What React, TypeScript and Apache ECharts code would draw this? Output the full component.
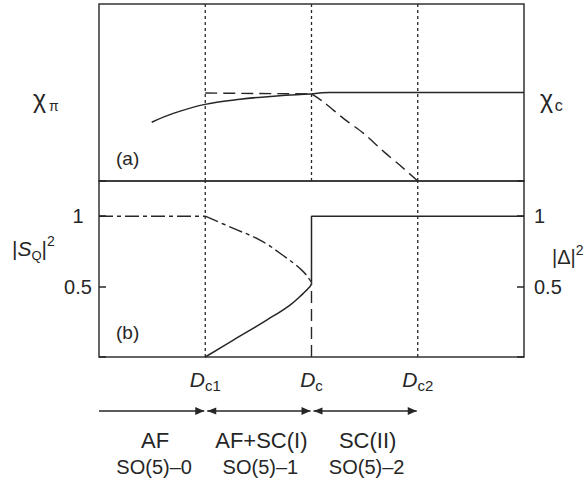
import { useEffect, useRef } from 'react';
import * as echarts from 'echarts';

// x positions of the phase boundaries (Dc1, Dc, Dc2) on a 0..4 axis
const xMin = 0;
const xMax = 4;
const boundaryValues = [1, 2, 3];
const boundarySubs = ['c1', 'c', 'c2'];

// panel (a): susceptibilities
const chiPiCurve = [[0.496, 0.332], [0.699, 0.382], [0.998, 0.433], [1.327, 0.462], [1.672, 0.48], [1.986, 0.491], [2, 0.492]];
const chiCFlat = [[2, 0.492], [2.17, 0.5], [4, 0.5]];
const chiDashedFlat = [[1, 0.497], [2, 0.492]];
const chiDashedFall = [[2, 0.492], [2.11, 0.448], [2.3, 0.354], [2.49, 0.269], [2.68, 0.166], [2.83, 0.09], [3, 0]];

// panel (b): order parameters
const sqPlateau = [[0, 1], [1, 1]];
const sqUpperBranch = [[1, 1], [1.26, 0.915], [1.515, 0.83], [1.73, 0.723], [1.908, 0.617], [1.986, 0.546], [2, 0.52]];
const deltaLowerBranch = [[1, 0], [1.264, 0.12], [1.578, 0.262], [1.798, 0.369], [1.923, 0.452], [1.986, 0.5], [2, 0.52]];
const deltaStep = [[2, 0.52], [2, 1], [4, 1]];
const deltaStepBelow = [[2, 0], [2, 0.52]];
const yTickLabels: Record<string, string> = { '0.5': '0.5', '1': '1' };

// phase annotations
const phaseBounds = [0, 1, 2, 3];
const phaseNames = ['AF', 'AF+SC(I)', 'SC(II)'];
const phaseSymmetry = ['SO(5)–0', 'SO(5)–1', 'SO(5)–2'];

const FONT = '"Liberation Sans", Arial, Helvetica, sans-serif';
const INK = '#262626';

export default function App() {
  const ref = useRef<HTMLDivElement>(null);
  useEffect(() => {
    if (!ref.current) return;
    const chart = echarts.init(ref.current, undefined, { renderer: 'svg' });
    const dotted = { color: INK, width: 1.3, type: [3, 3] as any };
    const lineSeries = (name: string, data: number[][], grid: number, style: any, smooth: any = false) => ({
      name,
      type: 'line',
      xAxisIndex: grid,
      yAxisIndex: grid,
      data,
      smooth,
      symbol: 'none',
      lineStyle: style,
      silent: true,
    });
    const series: any[] = [];
    boundaryValues.forEach((b, i) => {
      series.push(lineSeries('vA' + i, [[b, 0], [b, 1]], 0, dotted));
      if (i !== 1) series.push(lineSeries('vB' + i, [[b, 0], [b, 1.25]], 1, dotted));
    });
    const solid = { color: INK, width: 1.5, type: 'solid' };
    const dashed = { color: INK, width: 1.4, type: [12, 6] };
    const dashDot = { color: INK, width: 1.4, type: [14, 4, 4, 4] };
    series.push(lineSeries('chiPi', chiPiCurve, 0, solid, 0.4));
    series.push(lineSeries('chiC', chiCFlat, 0, solid, 0.3));
    series.push(lineSeries('chiDashFlat', chiDashedFlat, 0, dashed));
    series.push(lineSeries('chiDashFall', chiDashedFall, 0, dashed, 0.3));
    series.push(lineSeries('sqPlateau', sqPlateau, 1, dashDot));
    series.push(lineSeries('sqUpper', sqUpperBranch, 1, dashDot, 0.4));
    series.push(lineSeries('deltaLower', deltaLowerBranch, 1, solid, 0.4));
    series.push(lineSeries('deltaStep', deltaStep, 1, solid));
    series.push(lineSeries('deltaBelow', deltaStepBelow, 1, dashed));

    const labelFmt = (v: number) => yTickLabels[String(v)] || '';
    chart.setOption({
      animation: false,
      textStyle: { fontFamily: FONT },
      grid: [
        { left: 99, right: 60, top: 4, height: 177, show: true, borderColor: '#333', borderWidth: 1.5, containLabel: false },
        { left: 99, right: 60, top: 181, height: 176, show: true, borderColor: '#333', borderWidth: 1.5, containLabel: false },
      ],
      xAxis: [
        { type: 'value', gridIndex: 0, min: xMin, max: xMax, show: false },
        {
          type: 'value', gridIndex: 1, min: xMin, max: xMax, interval: 1,
          axisLine: { show: false }, axisTick: { show: false }, splitLine: { show: false },
          axisLabel: {
            margin: 8,
            color: INK,
            formatter: (v: number) => {
              const i = boundaryValues.indexOf(v);
              return i < 0 ? '' : `{d|D}{s|${boundarySubs[i]}}`;
            },
            rich: {
              d: { fontSize: 21, fontStyle: 'italic', lineHeight: 28, color: INK, fontFamily: FONT },
              s: { fontSize: 15, lineHeight: 15, verticalAlign: 'bottom', color: INK, fontFamily: FONT },
            },
          },
        },
      ],
      yAxis: [
        { type: 'value', gridIndex: 0, min: 0, max: 1, show: false },
        {
          type: 'value', gridIndex: 1, min: 0, max: 1.25, interval: 0.5, position: 'left',
          axisLine: { show: false }, splitLine: { show: false },
          axisTick: { show: true, inside: true, length: 7, lineStyle: { color: INK, width: 1.5 } },
          axisLabel: { margin: 21, align: 'center', fontSize: 20, color: INK, formatter: labelFmt, fontFamily: FONT },
        },
        {
          type: 'value', gridIndex: 1, min: 0, max: 1.25, interval: 0.5, position: 'right',
          axisLine: { show: false }, splitLine: { show: false },
          axisTick: { show: true, inside: true, length: 7, lineStyle: { color: INK, width: 1.5 } },
          axisLabel: { margin: 10, align: 'left', fontSize: 20, color: INK, formatter: labelFmt, fontFamily: FONT },
        },
      ],
      series,
    });

    const px = (v: number) => chart.convertToPixel({ xAxisIndex: 1 } as any, v) as unknown as number;
    const yArrow = 411;
    const graphics: any[] = [];
    const headRight = (x: number) => ({
      type: 'polygon', shape: { points: [[x, yArrow], [x - 9, yArrow - 4], [x - 9, yArrow + 4]] },
      style: { fill: INK }, silent: true,
    });
    const headLeft = (x: number) => ({
      type: 'polygon', shape: { points: [[x, yArrow], [x + 9, yArrow - 3.5], [x + 9, yArrow + 3.5]] },
      style: { fill: INK }, silent: true,
    });
    for (let i = 0; i < phaseNames.length; i++) {
      const a = px(phaseBounds[i]);
      const b = px(phaseBounds[i + 1]);
      const x0 = i === 0 ? a : a + 2;
      const x1 = b - 1;
      graphics.push({ type: 'line', shape: { x1: x0, y1: yArrow, x2: x1, y2: yArrow }, style: { stroke: INK, lineWidth: 1.5 }, silent: true });
      graphics.push(headRight(x1));
      if (i > 0) graphics.push(headLeft(x0));
      const mid = (a + b) / 2 + 3;
      graphics.push({
        type: 'text', x: mid, y: 440, silent: true,
        style: { text: phaseNames[i], font: `22px ${FONT}`, fill: INK, align: 'center', verticalAlign: 'middle' },
      });
      graphics.push({
        type: 'text', x: mid - 1, y: 467, silent: true,
        style: { text: phaseSymmetry[i], font: `20px ${FONT}`, fill: INK, align: 'center', verticalAlign: 'middle' },
      });
    }
    const richText = (x: number, y: number, text: string, rich: any, align = 'left') => ({
      type: 'text', x, y, silent: true,
      style: { text, rich, fill: INK, align, verticalAlign: 'middle', fontFamily: FONT },
    });
    graphics.push(richText(33, 99, '{c|χ}{g| }{p|π}', {
      c: { fontSize: 25, lineHeight: 28, fontFamily: FONT, fill: INK },
      g: { fontSize: 10, lineHeight: 10, fontFamily: FONT },
      p: { fontSize: 14, lineHeight: 14, verticalAlign: 'bottom', fontFamily: FONT, fill: INK },
    }));
    graphics.push(richText(540, 99, '{c|χ}{g| }{p|c}', {
      c: { fontSize: 25, lineHeight: 28, fontFamily: FONT, fill: INK },
      g: { fontSize: 6, lineHeight: 6, fontFamily: FONT },
      p: { fontSize: 16, lineHeight: 16, verticalAlign: 'bottom', fontFamily: FONT, fill: INK },
    }));
    graphics.push(richText(12, 248, '{m||}{i|S}{q|Q}{m||}{u|2}', {
      m: { fontSize: 21, lineHeight: 28, fontFamily: FONT, fill: INK },
      i: { fontSize: 21, lineHeight: 28, fontStyle: 'italic', fontFamily: FONT, fill: INK },
      q: { fontSize: 13, lineHeight: 13, verticalAlign: 'bottom', fontFamily: FONT, fill: INK },
      u: { fontSize: 14, lineHeight: 14, verticalAlign: 'top', fontFamily: FONT, fill: INK },
    }));
    graphics.push(richText(552, 257, '{m||Δ|}{u|2}', {
      m: { fontSize: 20, lineHeight: 28, fontFamily: FONT, fill: INK },
      u: { fontSize: 14, lineHeight: 14, verticalAlign: 'top', fontFamily: FONT, fill: INK },
    }));
    graphics.push({ type: 'text', x: 116, y: 158, silent: true, style: { text: '(a)', font: `19px ${FONT}`, fill: INK, verticalAlign: 'middle' } });
    graphics.push({ type: 'text', x: 116, y: 332, silent: true, style: { text: '(b)', font: `19px ${FONT}`, fill: INK, verticalAlign: 'middle' } });
    chart.setOption({ graphic: graphics });

    return () => chart.dispose();
  }, []);
  return <div ref={ref} style={{ width: 584, height: 482, position: 'absolute', left: 0, top: 0 }} />;
}
